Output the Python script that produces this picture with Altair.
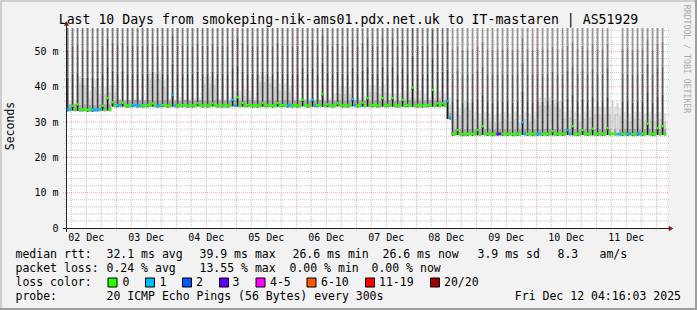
import altair as alt
import pandas as pd

# ---------------- content ----------------
TITLE = "Last 10 Days from smokeping-nik-ams01.pdx.net.uk to IT-mastaren | AS51929"
Y_TITLE = "Seconds"
WATERMARK = "RRDTOOL / TOBI OETIKER"

# time in hours since 2025-12-02 00:00
window_start_h = 4.2675      # Dec 02 04:16:03
window_end_h = 244.2675      # Dec 12 04:16:03
y_max_ms = 56.66

day_labels = ["02 Dec", "03 Dec", "04 Dec", "05 Dec", "06 Dec",
              "07 Dec", "08 Dec", "09 Dec", "10 Dec", "11 Dec"]
day_label_hours = [12, 36, 60, 84, 108, 132, 156, 180, 204, 228]
midnight_hours = [24, 48, 72, 96, 120, 144, 168, 192, 216, 240]
y_tick_values = [0, 10, 20, 30, 40, 50]
y_tick_labels = ["0", "10 m", "20 m", "30 m", "40 m", "50 m"]

# 2-hour slots starting Dec 02 04:00 (first hour: high-latency stripe, second hour: quiet)
median_ms = [
    33.6, 33.6, 33.5, 33.6, 33.5, 33.5, 33.6, 33.6, 33.6, 34.7, 34.8, 34.7,
    34.7, 34.8, 34.7, 34.7, 34.8, 34.7, 34.7, 34.8, 34.7, 34.7, 34.7, 34.8,
    34.7, 34.7, 34.8, 34.7, 34.7, 34.8, 34.7, 34.7, 34.7, 34.8, 34.7, 34.7,
    34.8, 34.7, 34.7, 34.7, 34.8, 34.7, 34.7, 34.8, 34.7, 34.7, 34.7, 34.8,
    34.7, 34.7, 34.8, 34.7, 34.7, 34.7, 34.8, 34.7, 34.7, 34.8, 34.7, 34.7,
    34.7, 34.8, 34.7, 34.7, 34.8, 34.7, 34.7, 34.7, 34.8, 34.7, 34.7, 34.7,
    34.8, 34.7, 34.7, 34.8, 31.2, 26.7, 26.7, 26.6, 26.7, 26.7, 26.6, 26.7,
    26.7, 26.6, 26.7, 26.7, 26.7, 26.6, 26.7, 26.7, 26.7, 26.6, 26.7, 26.7,
    26.7, 26.6, 26.7, 26.7, 26.7, 26.6, 26.7, 26.7, 26.7, 26.6, 26.7, 26.7,
    26.7, 26.7, 26.6, 26.7, 26.7, 26.6, 26.7, 26.7, 26.7, 26.6, 26.7, 26.7,
]
gap_top_ms = [
    36.3, 36.5, 43.0, 42.5, 39.0, 42.0, 40.0, 40.0, 40.6, 40.6, 36.8, 36.5,
    36.5, 36.8, 36.5, 36.5, 44.4, 44.0, 44.4, 42.0, 36.8, 36.5, 37.0, 36.5,
    36.5, 36.8, 37.0, 43.0, 43.0, 42.5, 36.8, 36.5, 37.0, 39.0, 39.0, 39.5,
    39.0, 37.0, 43.4, 43.4, 43.0, 42.0, 41.0, 41.0, 40.5, 37.0, 36.5, 36.5,
    36.8, 36.5, 36.5, 37.0, 36.8, 38.0, 40.0, 40.0, 40.0, 37.0, 37.0, 37.5,
    40.6, 40.6, 40.0, 40.6, 38.0, 38.0, 38.0, 39.0, 39.0, 39.0, 39.0, 38.0,
    37.0, 39.0, 39.0, 38.0, 37.0, 33.0, 34.0, 36.0, 35.5, 33.0, 32.5, 33.0,
    32.5, 32.0, 32.5, 33.0, 32.5, 33.0, 32.0, 33.0, 32.5, 33.0, 37.0, 37.0,
    37.0, 36.5, 36.0, 33.0, 33.5, 33.0, 32.5, 33.0, 33.5, 34.4, 34.4, 34.4,
    34.4, 34.4, 34.0, 33.0, 32.5, 33.0, 33.0, 32.5, 33.0, 32.5, 33.0, 32.5,
]
spike_slot = [1, 2, 7, 8, 9, 11, 17, 21, 26, 29, 33, 34, 35, 39, 42, 47, 49, 51, 52,
              54, 57, 59, 60, 63, 65, 67, 69, 73, 74, 75, 76, 78, 82, 83, 91, 97,
              100, 101, 103, 105, 108, 116, 118, 119]
spike_ms = [34.6, 35.0, 34.6, 36.8, 35.6, 35.5, 35.3, 37.6, 35.3, 35.3, 36.3, 37.0,
            35.4, 35.4, 35.4, 36.3, 36.3, 37.9, 35.0, 35.3, 36.5, 35.5, 36.8, 36.8,
            36.8, 36.3, 39.8, 39.1, 35.3, 35.3, 35.9, 27.7, 27.7, 28.8, 29.9, 27.4,
            27.7, 28.8, 27.7, 28.1, 28.3, 29.5, 28.3, 28.8]
loss_slot = [0, 5, 6, 10, 13, 14, 18, 21, 33, 44, 49, 57, 76, 86, 91, 94, 100, 110, 112, 114]
loss_cls = [1, 1, 1, 1, 1, 1, 1, 1, 1, 1, 1, 1, 1, 3, 1, 1, 1, 1, 1, 1]
short_stripe_slot = [109, 110]
short_stripe_top_ms = [36.0, 35.5]

loss_names = ["0", "1", "2", "3", "4-5", "6-10", "11-19", "20/20"]
loss_colors = ["#26ff00", "#00b8ff", "#0059ff", "#5e00ff", "#ff00ff", "#ff5500", "#ff0000", "#a10000"]

row1_texts = ["median rtt:", "32.1 ms avg", "39.9 ms max", "26.6 ms min", "26.6 ms now",
              "3.9 ms sd", "8.3", "am/s"]
row2_texts = ["packet loss:", "0.24 % avg", "13.55 % max", "0.00 % min", "0.00 % now"]
row3_text = "loss color:"
row4_texts = ["probe:", "20 ICMP Echo Pings (56 Bytes) every 300s"]
date_text = "Fri Dec 12 04:16:03 2025"

# ---------------- layout / style ----------------
PL, PT, PW, PH = 67, 28, 600, 200
FONT = "DejaVu Sans Mono"
row1_x = [16, 107, 200, 293, 383, 478, 558, 600]
row2_x = [16, 107, 200, 290, 372]
row4_x = [16, 107]
box_x = [108, 145.5, 182.5, 219.5, 256, 307, 365.5, 430.5]
box_label_x = [123, 160, 196.5, 233, 270.5, 321.5, 379.5, 444.5]
row_baseline = [258.3, 272.3, 286.3, 300.0]
GAP_TONES = ["#a8a8a8", "#cfcfcf", "#e2e2e2"]
STRIPE_TONES = ["#3e3e3e", "#5c5c5c", "#7a7a7a", "#999999"]
STRIPE_STEPS = [9, 17, 24]
STRIPE_INSET_H = 0.12   # visual narrowing of the stripe bars
MED_HALF = 0.35

# ---------------- build rectangles ----------------
spike = dict(zip(spike_slot, spike_ms))
loss = dict(zip(loss_slot, loss_cls))
short = dict(zip(short_stripe_slot, short_stripe_top_ms))
smoke, bars, medians = [], [], []


def rect(lst, x0, x1, y0, y1, fill):
    if y1 > y0:
        lst.append(dict(x0=x0, x1=x1, y0=y0, y1=y1, fill=fill))


for k, med in enumerate(median_ms):
    t0 = 4 + 2 * k
    tm, t1 = t0 + 1, t0 + 2
    col = loss_colors[loss.get(k, 0)]
    top = gap_top_ms[k]
    rect(smoke, tm, t1, med - 0.6, med + 1.5, GAP_TONES[0])
    rect(smoke, tm, t1, med + 1.5, top - 2, GAP_TONES[1])
    rect(smoke, tm, t1, max(top - 2, med + 1.5), top, GAP_TONES[2])
    hi = spike.get(k, med)
    stop = short.get(k, y_max_ms + 5)
    edges = [hi - 0.6] + [hi + s for s in STRIPE_STEPS] + [stop]
    s0, s1 = t0 + STRIPE_INSET_H, tm - STRIPE_INSET_H
    for i, tone in enumerate(STRIPE_TONES):
        rect(smoke, s0, s1, min(edges[i], stop), min(edges[i + 1], stop),
             tone if k not in short else GAP_TONES[1])
    rect(medians, tm, t1, med - MED_HALF, med + MED_HALF, col)
    if k in spike:
        rect(bars, s0, s1, med - MED_HALF, hi, "#1a1a1a")
        rect(medians, t0, tm, hi - MED_HALF, hi + MED_HALF, col)
    else:
        rect(medians, t0, tm, med - MED_HALF, med + MED_HALF, col)

rect_df = pd.DataFrame(smoke + bars + medians)

xs = alt.Scale(domain=[window_start_h, window_end_h], nice=False, zero=False)
ys = alt.Scale(domain=[0, y_max_ms], nice=False, zero=False)

data_layer = alt.Chart(rect_df).mark_rect(clip=True, strokeWidth=0).encode(
    x=alt.X("x0:Q", scale=xs, axis=None), x2="x1:Q",
    y=alt.Y("y0:Q", scale=ys, axis=None), y2="y1:Q",
    color=alt.Color("fill:N", scale=None),
)

minor_x = [h for h in range(6, 244, 6) if h % 24]
minor_y = [v for v in range(2, 57, 2) if v % 10]
major_y = [10, 20, 30, 40, 50]
MINOR = dict(color="#8f8f8f", opacity=0.5, strokeDash=[1, 1], strokeWidth=1)
MAJOR = dict(color="#de4f4f", opacity=0.5, strokeDash=[1, 1], strokeWidth=1)

grid_minor_x = alt.Chart(pd.DataFrame({"h": minor_x})).mark_rule(**MINOR).encode(
    x=alt.X("h:Q", scale=xs, axis=None), y=alt.value(0), y2=alt.value(202))
grid_major_x = alt.Chart(pd.DataFrame({"h": midnight_hours})).mark_rule(**MAJOR).encode(
    x=alt.X("h:Q", scale=xs, axis=None), y=alt.value(0), y2=alt.value(203))
grid_minor_y = alt.Chart(pd.DataFrame({"v": minor_y})).mark_rule(**MINOR).encode(
    y=alt.Y("v:Q", scale=ys, axis=None), x=alt.value(-3), x2=alt.value(602))
grid_major_y = alt.Chart(pd.DataFrame({"v": major_y})).mark_rule(**MAJOR).encode(
    y=alt.Y("v:Q", scale=ys, axis=None), x=alt.value(-4), x2=alt.value(602))

one = pd.DataFrame({"d": [0]})
x_axis_line = alt.Chart(one).mark_rule(color="#1f1f1f", strokeWidth=1).encode(
    x=alt.value(-4), x2=alt.value(603), y=alt.value(200.5))
y_axis_line = alt.Chart(one).mark_rule(color="#1f1f1f", strokeWidth=1).encode(
    y=alt.value(-4), y2=alt.value(204), x=alt.value(-0.5))
x_arrow = alt.Chart(one).mark_point(shape="triangle-right", filled=True, color="#801f1f",
                                    opacity=1, size=28).encode(
    x=alt.value(604), y=alt.value(200.5))
y_arrow = alt.Chart(one).mark_point(shape="triangle-up", filled=True, color="#801f1f",
                                    opacity=1, size=28).encode(
    x=alt.value(-0.5), y=alt.value(-4.5))

y_labels = alt.Chart(pd.DataFrame({"v": y_tick_values, "t": y_tick_labels})).mark_text(
    font=FONT, fontSize=10, align="right", baseline="alphabetic", dy=3.6, color="black").encode(
    y=alt.Y("v:Q", scale=ys, axis=None), x=alt.value(-8.5), text="t:N")
x_labels = alt.Chart(pd.DataFrame({"h": day_label_hours, "t": day_labels})).mark_text(
    font=FONT, fontSize=10, align="center", baseline="alphabetic", color="black").encode(
    x=alt.X("h:Q", scale=xs, axis=None), y=alt.value(241 - PT), text="t:N")


def label(text, x, y, size, align="left", angle=0, color="black", baseline="alphabetic"):
    return alt.Chart(pd.DataFrame({"t": [text]})).mark_text(
        font=FONT, fontSize=size, align=align, baseline=baseline, angle=angle, color=color
    ).encode(x=alt.value(x - PL), y=alt.value(y - PT), text="t:N")


texts = [
    label(TITLE, 348.5, 24, 13.2, align="center"),
    label(Y_TITLE, 11, 126, 11.5, align="center", angle=270, baseline="middle"),
    label(WATERMARK, 686, 59, 8.2, align="center", angle=90, color="#aaaaaa", baseline="middle"),
]
for t, x in zip(row1_texts, row1_x):
    texts.append(label(t, x - 0.5, row_baseline[0], 11.5))
for t, x in zip(row2_texts, row2_x):
    texts.append(label(t, x - 0.5, row_baseline[1], 11.5))
texts.append(label(row3_text, 15.5, row_baseline[2], 11.5))
for t, x in zip(loss_names, box_label_x):
    texts.append(label(t, x - 0.5, row_baseline[2], 11.5))
for t, x in zip(row4_texts, row4_x):
    texts.append(label(t, x - 0.5, row_baseline[3], 11.5))
texts.append(label(date_text, 681, row_baseline[3], 11.5, align="right"))

box_df = pd.DataFrame({"bx": [b - PL for b in box_x], "bx2": [b - PL + 9 for b in box_x],
                       "c": loss_colors})
boxes = alt.Chart(box_df).mark_rect(stroke="black", strokeWidth=1).encode(
    x=alt.X("bx:Q", scale=None), x2="bx2:Q",
    y=alt.value(278 - PT), y2=alt.value(287 - PT),
    color=alt.Color("c:N", scale=None))

frame = [
    alt.Chart(one).mark_rule(color="#cfcfcf", strokeWidth=2).encode(
        x=alt.value(-PL), x2=alt.value(697 - PL), y=alt.value(1 - PT)),
    alt.Chart(one).mark_rule(color="#cfcfcf", strokeWidth=2).encode(
        y=alt.value(-PT), y2=alt.value(310 - PT), x=alt.value(1 - PL)),
    alt.Chart(one).mark_rule(color="#9e9e9e", strokeWidth=2).encode(
        x=alt.value(-PL), x2=alt.value(697 - PL), y=alt.value(309 - PT)),
    alt.Chart(one).mark_rule(color="#9e9e9e", strokeWidth=2).encode(
        y=alt.value(-PT), y2=alt.value(310 - PT), x=alt.value(696 - PL)),
]

chart = alt.layer(
    grid_minor_x, grid_minor_y, grid_major_x, grid_major_y, data_layer,
    x_axis_line, y_axis_line, x_arrow, y_arrow, y_labels, x_labels, boxes,
    *texts, *frame,
).properties(
    width=PW, height=PH,
    padding={"left": PL, "top": PT, "right": 697 - PL - PW, "bottom": 310 - PT - PH},
    autosize=alt.AutoSizeParams(type="none"),
).configure(background="#f2f2f2").configure_view(fill="white", stroke=None)

chart.save("out.html", embed_options={"renderer": "svg", "actions": False})
